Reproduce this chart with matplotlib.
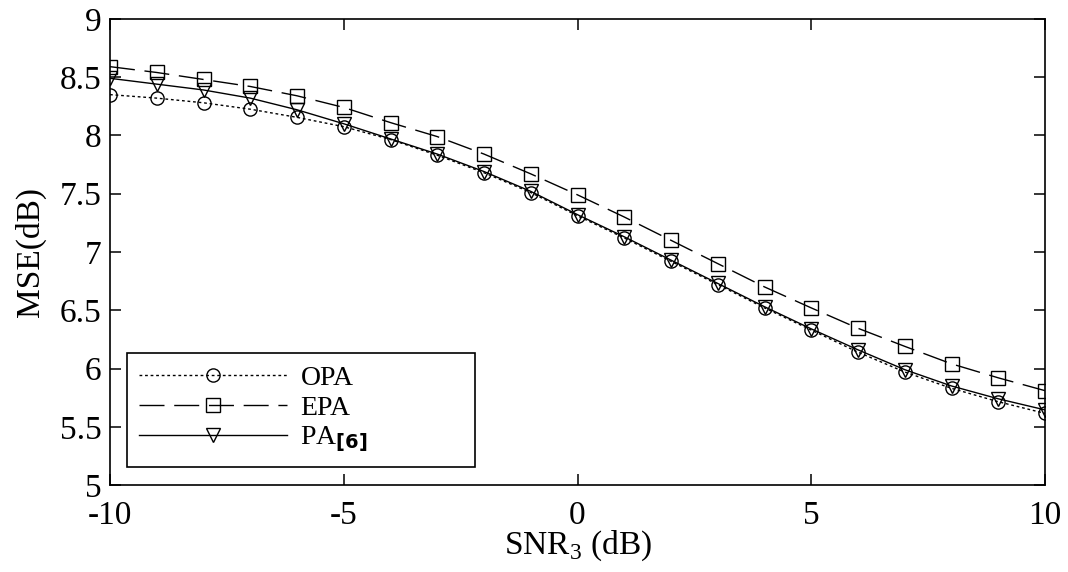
import numpy as np
import matplotlib
matplotlib.use("Agg")
import matplotlib.pyplot as plt

# valores
snr = list(range(-10, 11))
mse_opa = [8.35, 8.32, 8.28, 8.225, 8.155, 8.075, 7.965, 7.83, 7.68, 7.51, 7.31,
           7.12, 6.92, 6.72, 6.52, 6.33, 6.14, 5.97, 5.83, 5.715, 5.615]
mse_epa = [8.59, 8.54, 8.48, 8.42, 8.34, 8.24, 8.11, 7.99, 7.84, 7.67, 7.49,
           7.30, 7.10, 6.90, 6.70, 6.52, 6.345, 6.19, 6.04, 5.92, 5.81]
mse_pa = [8.49, 8.44, 8.39, 8.32, 8.22, 8.10, 7.97, 7.84, 7.69, 7.52, 7.32,
          7.13, 6.93, 6.73, 6.53, 6.34, 6.16, 5.99, 5.85, 5.74, 5.645]

x_ticks = [-10, -5, 0, 5, 10]
y_ticks = [5, 5.5, 6, 6.5, 7, 7.5, 8, 8.5, 9]
y_tick_labels = ['5', '5.5', '6', '6.5', '7', '7.5', '8', '8.5', '9']

plt.rcParams['font.family'] = ['Liberation Serif', 'DejaVu Serif']
plt.rcParams['mathtext.fontset'] = 'custom'
plt.rcParams['mathtext.rm'] = 'Liberation Serif'
plt.rcParams['mathtext.bf'] = 'DejaVu Sans:bold'

fig = plt.figure(figsize=(10.68, 5.72), dpi=100)
ax = fig.add_axes([0.103, 0.152, 0.8755, 0.815])

estilo = dict(color='black', linewidth=1.0, markersize=9.5,
              markerfacecolor='none', markeredgecolor='black', markeredgewidth=1.0)

ax.plot(snr, mse_opa, marker='o', linestyle=(0, (2, 2)), label='OPA', **estilo)
ax.plot(snr, mse_epa, marker='s', linestyle=(0, (18, 7)), label='EPA', **estilo)
ax.plot(snr, mse_pa, marker='v', linestyle='-', label=r'PA$_{\mathbf{[6]}}$', **estilo)

ax.set_xlim(-10, 10)
ax.set_ylim(5, 9)
ax.set_xticks(x_ticks)
ax.set_xticklabels([str(t) for t in x_ticks])
ax.set_yticks(y_ticks)
ax.set_yticklabels(y_tick_labels)
ax.tick_params(direction='in', length=8, width=1.1, top=True, right=True,
               labelsize=24)
ax.tick_params(axis='x', pad=11)
ax.tick_params(axis='y', pad=6)
for s in ax.spines.values():
    s.set_linewidth(1.2)

ax.set_xlabel(r'SNR$_3$ (dB)', fontsize=24, labelpad=-2)
ax.set_ylabel('MSE(dB)', fontsize=24, labelpad=10)

leg = ax.legend(loc='upper left', bbox_to_anchor=(0.018, 0.043, 0.372, 0.240),
                mode='expand', borderaxespad=0, fontsize=20, handlelength=5.3,
                handletextpad=0.5, labelspacing=0.15, borderpad=0.45,
                fancybox=False, framealpha=1, edgecolor='black')
leg.get_frame().set_linewidth(1.2)

fig.savefig('out.png', dpi=100)
